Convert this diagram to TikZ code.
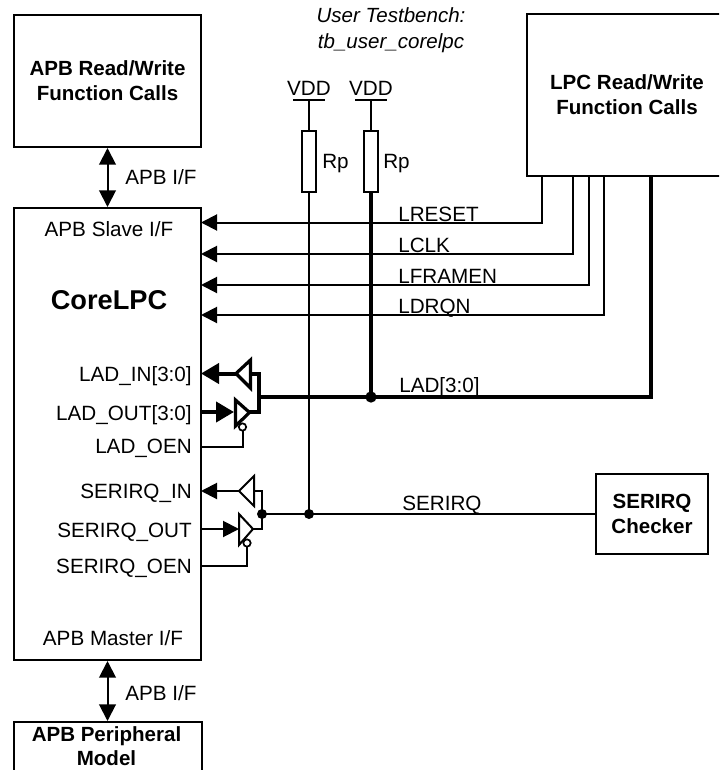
\documentclass[tikz,border=0pt]{standalone}
\usepackage{fontspec}
\setmainfont{Liberation Sans}
\usetikzlibrary{arrows.meta}
\tikzset{
  box/.style={draw,line width=1.5pt,fill=white,align=center,inner sep=0pt,font=\fontsize{15.4}{18.8}\selectfont\bfseries},
  lbl/.style={font=\fontsize{15.5}{18}\selectfont,inner sep=0pt,anchor=base west},
  lble/.style={lbl,anchor=base east},
  lblc/.style={lbl,anchor=base},
  wire/.style={line width=1.5pt},
  thickwire/.style={line width=3pt},
  sig/.style={wire,-{Triangle[length=12pt,width=12pt]}},
  sigb/.style={thickwire,-{Triangle[length=13.5pt,width=15pt]}},
  both/.style={wire,{Triangle[length=12.5pt,width=12.5pt]}-{Triangle[length=12.5pt,width=12.5pt]}},
  dot/.style={circle,fill=black,inner sep=0pt,minimum size=#1},
  bubble/.style={circle,draw,line width=1.3pt,fill=white,inner sep=0pt,minimum size=5.5pt},
  res/.style={draw,line width=1.5pt,fill=white,minimum width=10.5pt,minimum height=45.5pt,inner sep=0pt},
}
\begin{document}
\begin{tikzpicture}[x=0.75pt,y=-0.75pt,line join=miter]
\useasboundingbox (0,0) rectangle (719,770);
\clip (0,0) rectangle (719,770);
% boxes
\node[box,minimum width=140.25pt,minimum height=99pt] (apbrw) at (107.5,81) {APB Read/Write\\Function Calls};
\node[box,minimum width=140.25pt,minimum height=339pt] (core) at (107.5,434) {};
\node[box,minimum width=141pt,minimum height=60pt] (periph) at (107.5,762) {};
\node[box,minimum width=150pt,minimum height=121.5pt] (lpc) at (627,95) {LPC Read/Write\\Function Calls};
\node[box,minimum width=84pt,minimum height=60pt] (chk) at (652,514) {SERIRQ\\Checker};
\node[font=\fontsize{15.4}{17.3}\selectfont\bfseries,align=center,inner sep=0pt,anchor=base] (periphtxt) at (106.5,765) {APB Peripheral\\Model};
% texts in core
\node[lblc,font=\fontsize{20.4}{24}\selectfont\bfseries] (title) at (109,309) {CoreLPC};
\node[lblc] (slave) at (109,236) {APB Slave I/F};
\node[lblc] (master) at (113,645) {APB Master I/F};
\node[lble] (ladin) at (192,381) {LAD\_IN[3:0]};
\node[lble] (ladout) at (192,420) {LAD\_OUT[3:0]};
\node[lble] (ladoen) at (192,453) {LAD\_OEN};
\node[lble] (serin) at (192,498) {SERIRQ\_IN};
\node[lble] (serout) at (192,537) {SERIRQ\_OUT};
\node[lble] (seroen) at (192,573) {SERIRQ\_OEN};
% testbench caption
\node[lblc,font=\fontsize{15.4}{19.5}\selectfont\itshape,align=center] (tb) at (391,49) {User Testbench:\\tb\_user\_corelpc};
% APB arrows
\draw[both] (apbrw.south) -- (core.north);
\node[lbl] (apb1) at (125,185) {APB I/F};
\draw[both] (core.south) -- (periph.north);
\node[lbl] (apb2) at (125,700) {APB I/F};
% control signals
\coordinate (l1) at (542,176); \coordinate (r1) at (542,222.5); \coordinate (e1) at (201,222.5);
\coordinate (l2) at (573,176); \coordinate (r2) at (573,254); \coordinate (e2) at (201,254);
\coordinate (l3) at (589,176); \coordinate (r3) at (589,285); \coordinate (e3) at (201,285);
\coordinate (l4) at (604,176); \coordinate (r4) at (604,315); \coordinate (e4) at (201,315);
\draw[sig] (l1) -- (r1) -- (e1);
\draw[sig] (l2) -- (r2) -- (e2);
\draw[sig] (l3) -- (r3) -- (e3);
\draw[sig] (l4) -- (r4) -- (e4);
\node[lbl] (lreset) at (398,221) {LRESET};
\node[lbl] (lclk) at (398,252) {LCLK};
\node[lbl] (lframen) at (398,283) {LFRAMEN};
\node[lbl] (ldrqn) at (398,313) {LDRQN};
% VDD rails and resistors
\node[lblc] (vdd1) at (309,96) {VDD};
\node[lblc] (vdd2) at (371,96) {VDD};
\coordinate (v1) at (309,100); \coordinate (v2) at (371,100);
\draw[wire] (293,100) -- (325,100);
\draw[wire] (355,100) -- (387,100);
\coordinate (d1) at (309,514); \coordinate (d2) at (371,397);
\draw[wire] (v1) -- (d1);
\draw[wire] (v2) -- (371,192);
\draw[thickwire] (371,192) -- (d2);
\node[res] (r1a) at (309,161.5) {};
\node[res] (r2a) at (371,161.5) {};
\node[lbl] (rp1) at (322,168) {Rp};
\node[lbl] (rp2) at (383,168) {Rp};
% LAD bus
\coordinate (ladc) at (651,397);
\draw[thickwire] (651,176) -- (ladc) -- (259,397);
\node[lbl] (ladl) at (399,392) {LAD[3:0]};
\draw[thickwire] (250,373.5) -- (259,373.5) -- (259,412) -- (248,412);
\draw[sigb] (236,373.5) -- (201,373.5);
\draw[sigb] (201,412) -- (234,412);
\draw[wire] (242.5,427) -- (242.5,447) -- (201,447);
\draw[line width=2.4pt,fill=white] (250.5,360) -- (236,373.5) -- (250.5,388) -- cycle;
\draw[line width=2.4pt,fill=white] (235.5,400) -- (249.5,412.5) -- (235.5,426) -- cycle;
\node[bubble] (bub1) at (242.5,427) {};
\node[dot=8.5pt] (dotb) at (d2) {};
% SERIRQ
\coordinate (serj) at (262,514);
\draw[wire] (chk.west) -- (serj);
\node[lbl] (serl) at (402,510) {SERIRQ};
\draw[wire] (254,491) -- (262,491) -- (262,529) -- (252,529);
\draw[sig] (239,491) -- (201,491);
\draw[sig] (201,529) -- (239,529);
\draw[wire] (247,543) -- (247,566) -- (201,566);
\draw[wire,fill=white] (254,476) -- (239,491) -- (254,506) -- cycle;
\draw[wire,fill=white] (239,514) -- (253,529) -- (239,545) -- cycle;
\node[bubble] (bub2) at (247,543) {};
\node[dot=7.5pt] (dots1) at (serj) {};
\node[dot=7.5pt] (dots2) at (d1) {};
\end{tikzpicture}
\end{document}
